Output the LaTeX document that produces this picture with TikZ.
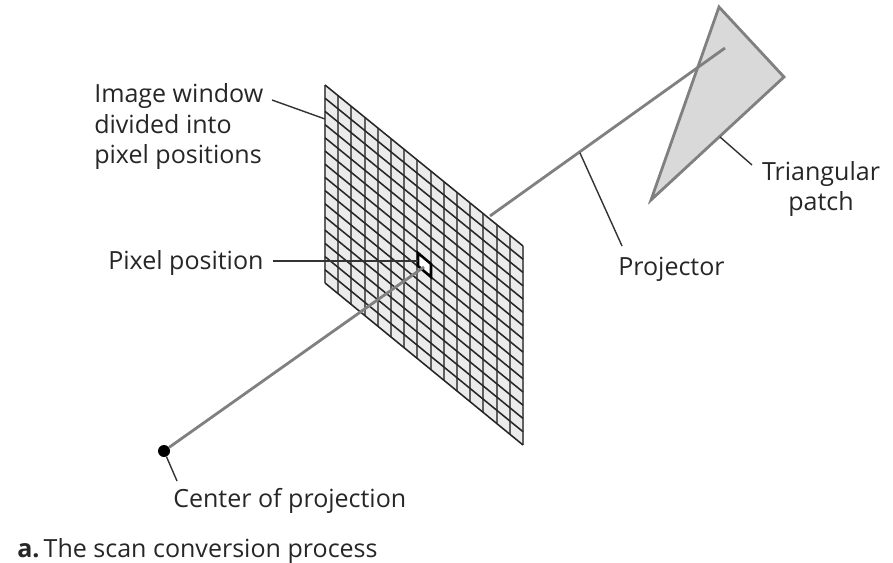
\documentclass[tikz,border=0pt]{standalone}
\usepackage{fontspec}
\setmainfont{Open Sans}
\usetikzlibrary{calc}
\tikzset{
  label/.style={font=\fontsize{17.8}{22}\selectfont, text=black!85, inner sep=0pt},
  leader/.style={draw=black!80, line width=1pt},
  ray/.style={draw=black!50, line width=2pt},
  colline/.style={draw=black!62, line width=1.4pt},
  rowline/.style={draw=black!85, line width=1.1pt}
}
\begin{document}
\begin{tikzpicture}[x=0.025cm,y=-0.025cm]
  \useasboundingbox (0,0) rectangle (893,563);

  % Corners and ends
  \coordinate (winTL) at (325,85);
  \coordinate (winTR) at (523,246);
  \coordinate (winBR) at (523,445);
  \coordinate (winBL) at (325,283);
  \coordinate (rayIn) at (490,216);
  \coordinate (rayEnd) at (725,48);
  \coordinate (rayHit) at (424,267);
  \coordinate (triTop) at (719,7);
  \coordinate (triRight) at (784,77);
  \coordinate (triLow) at (651,200);

  % Triangular patch
  \draw[draw=black!50, fill=black!15, line width=2pt, line join=miter] (triTop) -- (triRight) -- (triLow) -- cycle;

  % Upper part of the projector
  \draw[ray] (rayIn) -- (rayEnd);

  % Image window
  \fill[black!8] (winTL) -- (winTR) -- (winBR) -- (winBL) -- cycle;
  \foreach \c in {0,...,15}
    \draw[colline] ($(winTL)!\c/15!(winTR)$) -- ($(winBL)!\c/15!(winBR)$);
  \foreach \r in {0,...,15}
    \draw[rowline] ($(winTL)!\r/15!(winBL)$) -- ($(winTR)!\r/15!(winBR)$);

  % Pixel position
  \coordinate (pixA) at (418,253);
  \coordinate (pixB) at (431,264);
  \coordinate (pixC) at (431,277);
  \coordinate (pixD) at (418,266);
  \draw[fill=white, draw=black, line width=1.8pt] (pixA) -- (pixB) -- (pixC) -- (pixD) -- cycle;

  % Lower part of the projector
  \node[circle, fill=black, inner sep=0pt, minimum size=0.3cm] (eye) at (164,451) {};
  \draw[ray] (eye) -- (rayHit);

  % Labels
  \node[label, anchor=base west, align=left] (windowlabel) at (94,164) {Image window\\divided into\\pixel positions};
  \node[label, anchor=base west] (pixellabel) at (108,270) {Pixel position};
  \node[label, anchor=base west] (projectorlabel) at (618,276) {Projector};
  \node[label, anchor=base, align=center] (patchlabel) at (821,211) {Triangular\\patch};
  \node[label, anchor=base west] (eyelabel) at (173,507) {Center of projection};
  \node[label, anchor=base west] (caption) at (17,557) {\textbf{a.}\,The scan conversion process};

  % Leaders
  \coordinate (winLead) at (272,100);
  \coordinate (winEnd) at (325,119);
  \coordinate (pixLead) at (273,261);
  \coordinate (pixEnd) at (418,261);
  \coordinate (rayFoot) at (580,153);
  \coordinate (projLead) at (622,246);
  \coordinate (triFoot) at (720,137);
  \coordinate (triLead) at (752,165);
  \coordinate (eyeLead) at (177,481);
  \draw[leader] (winLead) -- (winEnd);
  \draw[leader] (pixLead) -- (pixEnd);
  \draw[leader] (rayFoot) -- (projLead);
  \draw[leader] (triFoot) -- (triLead);
  \draw[leader] (eye) -- (eyeLead);
\end{tikzpicture}
\end{document}
